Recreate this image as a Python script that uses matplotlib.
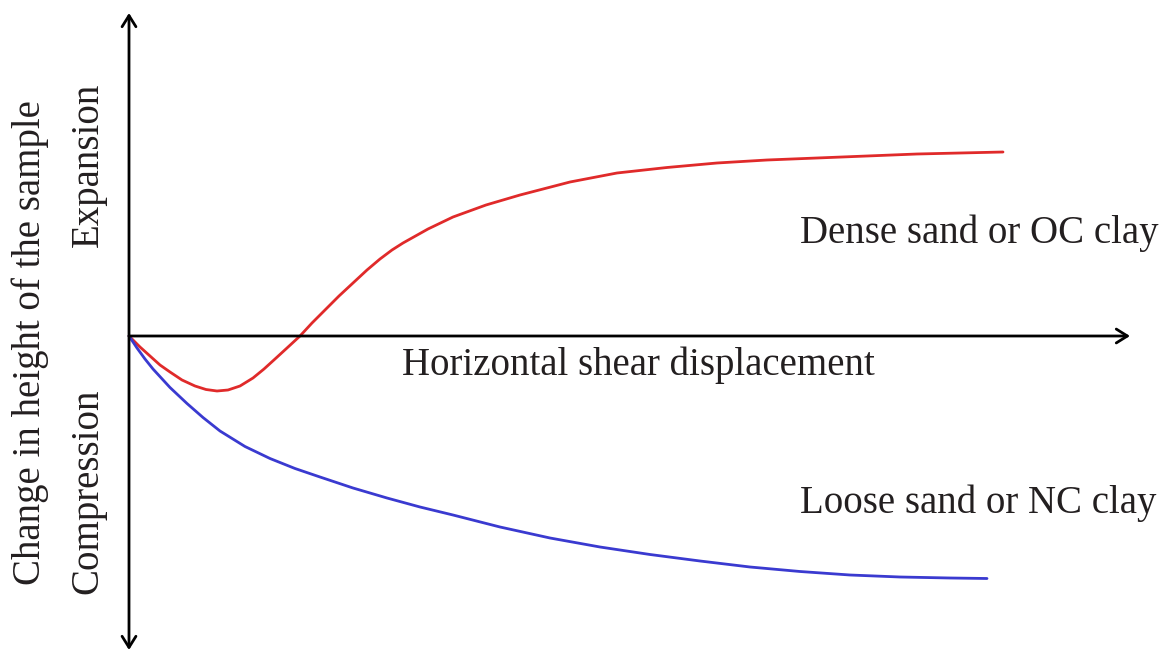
import matplotlib
matplotlib.use("Agg")
import matplotlib.pyplot as plt

# Dense sand / OC clay (dilation curve)
dense_x = [0.0, 0.11, 0.21, 0.31, 0.41, 0.53, 0.66, 0.77, 0.88, 0.99, 1.11, 1.24,
           1.35, 1.46, 1.58, 1.71, 1.83, 1.96, 2.10, 2.24, 2.38, 2.51, 2.63, 2.74,
           2.99, 3.24, 3.57, 3.91, 4.41, 4.88, 5.38, 5.88, 6.38, 6.88, 7.38, 7.88,
           8.31, 8.74]
dense_y = [0.0, -0.11, -0.20, -0.29, -0.36, -0.44, -0.50, -0.535, -0.55, -0.54, -0.50, -0.42,
           -0.33, -0.23, -0.12, 0.0, 0.13, 0.26, 0.40, 0.53, 0.66, 0.77, 0.86, 0.93,
           1.07, 1.19, 1.31, 1.41, 1.54, 1.63, 1.685, 1.73, 1.76, 1.78, 1.80, 1.82,
           1.83, 1.84]

# Loose sand / NC clay (compression curve)
loose_x = [0.0, 0.08, 0.16, 0.24, 0.41, 0.58, 0.74, 0.91, 1.16, 1.41, 1.66, 1.91,
           2.24, 2.58, 2.91, 3.24, 3.71, 4.21, 4.71, 5.21, 5.71, 6.21, 6.71, 7.21,
           7.71, 8.21, 8.58]
loose_y = [0.0, -0.12, -0.23, -0.33, -0.515, -0.675, -0.815, -0.95, -1.105, -1.225, -1.325, -1.41,
           -1.52, -1.62, -1.71, -1.79, -1.91, -2.02, -2.11, -2.185, -2.25, -2.31, -2.355, -2.39,
           -2.41, -2.42, -2.425]

x_label = "Horizontal shear displacement"
y_label = "Change in height of the sample"
pos_label = "Expansion"
neg_label = "Compression"
dense_label = "Dense sand or OC clay"
loose_label = "Loose sand or NC clay"

plt.rcParams['font.family'] = ['Liberation Serif', 'DejaVu Serif']
fs = 28
tc = '#231f20'

fig = plt.figure(figsize=(11.72, 6.55), dpi=100)
ax = fig.add_axes([0, 0, 1, 1])
ax.set_xlim(-1.29, 10.43)
ax.set_ylim(-3.19, 3.36)
ax.axis('off')

# axes arrows
ax.annotate('', xy=(10.01, 0), xytext=(0, 0),
            arrowprops=dict(arrowstyle='->,head_length=0.8,head_width=0.5',
                            lw=2, color='black', shrinkA=0, shrinkB=0))
ax.annotate('', xy=(0, 3.23), xytext=(0, -3.14),
            arrowprops=dict(arrowstyle='<->,head_length=0.8,head_width=0.5',
                            lw=2, color='black', shrinkA=0, shrinkB=0))

ax.plot(dense_x, dense_y, color='#e02a2a', lw=2, solid_capstyle='round',
        solid_joinstyle='round')
ax.plot(loose_x, loose_y, color='#3a3ad0', lw=2, solid_capstyle='round',
        solid_joinstyle='round')

ax.text(2.73, -0.39, x_label, fontsize=fs, ha='left', va='baseline', color=tc)
ax.text(6.71, 0.93, dense_label, fontsize=fs, ha='left', va='baseline', color=tc)
ax.text(6.71, -1.77, loose_label, fontsize=fs, ha='left', va='baseline', color=tc)
ax.text(-0.99, -0.07, y_label, fontsize=fs, rotation=90, ha='center', va='center', color=tc)
ax.text(-0.41, 1.71, pos_label, fontsize=fs, rotation=90, ha='center', va='center', color=tc)
ax.text(-0.41, -1.55, neg_label, fontsize=fs, rotation=90, ha='center', va='center', color=tc)

fig.savefig('out.png', dpi=100)
